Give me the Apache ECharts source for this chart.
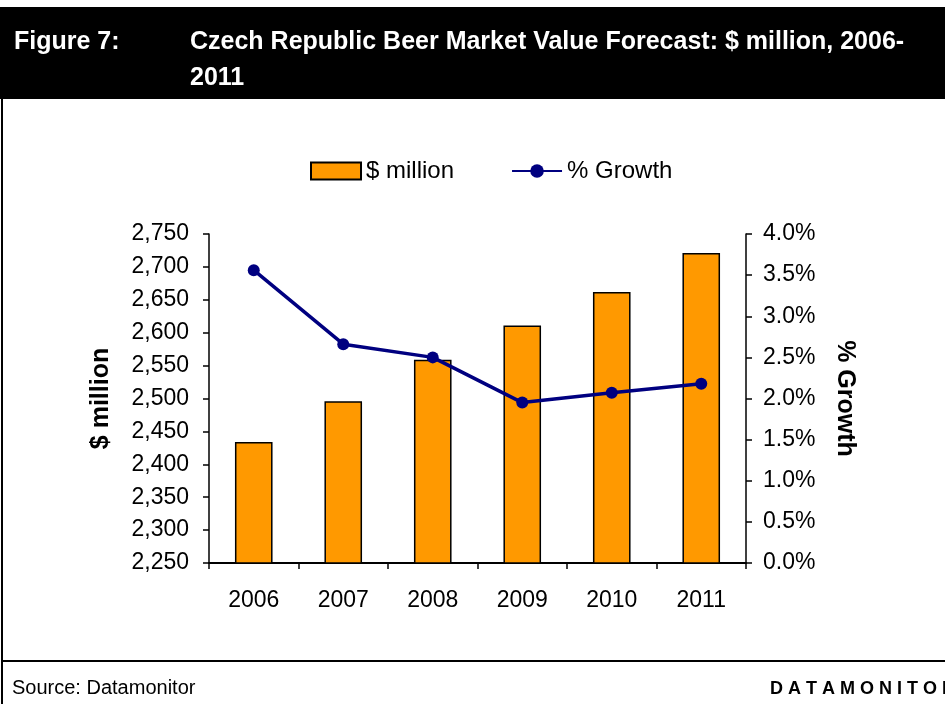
<!DOCTYPE html>
<html>
<head>
<meta charset="utf-8">
<script src="https://cdn.jsdelivr.net/npm/echarts@6/dist/echarts.min.js"></script>
<style>
  html, body { margin: 0; padding: 0; background: #ffffff; }
  #chart { width: 945px; height: 704px; }
</style>
</head>
<body>
<div id="chart"></div>
<script>
// Czech Republic beer market value forecast, 2006-2011
const years = ['2006', '2007', '2008', '2009', '2010', '2011'];
const marketValue = [2434, 2496, 2559, 2611, 2662, 2721];   // $ million
const growthPct = [3.56, 2.66, 2.50, 1.95, 2.07, 2.18];     // % growth

const FONT = '"Liberation Sans", Arial, sans-serif';

const chart = echarts.init(document.getElementById('chart'), null, { renderer: 'canvas' });

chart.setOption({
  backgroundColor: '#ffffff',
  animation: false,
  textStyle: { fontFamily: FONT, color: '#000' },
  graphic: [
    // title band
    { type: 'rect', left: 0, top: 7, shape: { width: 945, height: 92 }, style: { fill: '#000' } },
    { type: 'text', left: 14, top: 30, style: { text: 'Figure 7:', fill: '#fff', font: 'bold 25px ' + FONT } },
    { type: 'text', left: 190, top: 30, style: { text: 'Czech Republic Beer Market Value Forecast: $ million, 2006-', fill: '#fff', font: 'bold 25px ' + FONT } },
    { type: 'text', left: 190, top: 66, style: { text: '2011', fill: '#fff', font: 'bold 25px ' + FONT } },
    // frame lines
    { type: 'line', shape: { x1: 2, y1: 99, x2: 2, y2: 704 }, style: { stroke: '#000', lineWidth: 2 } },
    { type: 'line', shape: { x1: 2, y1: 661, x2: 945, y2: 661 }, style: { stroke: '#000', lineWidth: 2 } },
    // footer
    { type: 'text', left: 12, top: 678, style: { text: 'Source: Datamonitor', fill: '#000', font: '20px ' + FONT } },
    { type: 'text', left: 770, top: 680, style: { text: 'D A T A M O N I T O R', fill: '#000', font: 'bold 18px ' + FONT } }
  ],
  legend: {
    left: 305,
    top: 154,
    itemWidth: 50,
    itemHeight: 17,
    itemGap: 57,
    textStyle: { fontFamily: FONT, fontSize: 24, color: '#000' },
    data: [
      { name: '$ million', icon: 'rect' },
      { name: '% Growth' }
    ]
  },
  grid: { left: 209, right: 199, top: 234, bottom: 141 },
  xAxis: {
    type: 'category',
    data: years,
    axisLine: { lineStyle: { color: '#000', width: 2 } },
    axisTick: { show: true, length: 6, lineStyle: { color: '#000', width: 1.5 } },
    axisLabel: { fontSize: 23, color: '#000', fontFamily: FONT, margin: 26 }
  },
  yAxis: [
    {
      type: 'value',
      min: 2250,
      max: 2750,
      interval: 50,
      name: '$ million',
      nameLocation: 'middle',
      nameGap: 95,
      nameRotate: 90,
      nameTextStyle: { fontSize: 25, fontWeight: 'bold', color: '#000', fontFamily: FONT },
      axisLine: { show: true, lineStyle: { color: '#000', width: 1.5 } },
      axisTick: { show: true, length: 6, lineStyle: { color: '#000', width: 1.5 } },
      splitLine: { show: false },
      axisLabel: {
        fontSize: 23, color: '#000', fontFamily: FONT, margin: 20,
        formatter: v => v.toLocaleString('en-US')
      }
    },
    {
      type: 'value',
      min: 0,
      max: 4,
      interval: 0.5,
      position: 'right',
      name: '% Growth',
      nameLocation: 'middle',
      nameGap: 86,
      nameRotate: -90,
      nameTextStyle: { fontSize: 25, fontWeight: 'bold', color: '#000', fontFamily: FONT },
      axisLine: { show: true, lineStyle: { color: '#000', width: 1.5 } },
      axisTick: { show: true, length: 6, lineStyle: { color: '#000', width: 1.5 } },
      splitLine: { show: false },
      axisLabel: {
        fontSize: 23, color: '#000', fontFamily: FONT, margin: 17,
        formatter: v => v.toFixed(1) + '%'
      }
    }
  ],
  series: [
    {
      name: '$ million',
      type: 'bar',
      yAxisIndex: 0,
      data: marketValue,
      barWidth: '42%',
      itemStyle: { color: '#ff9900', borderColor: '#000', borderWidth: 1.5 }
    },
    {
      name: '% Growth',
      type: 'line',
      yAxisIndex: 1,
      data: growthPct,
      symbol: 'circle',
      symbolSize: 12,
      lineStyle: { color: '#000080', width: 3.5 },
      itemStyle: { color: '#000080' }
    }
  ]
});
</script>
</body>
</html>
